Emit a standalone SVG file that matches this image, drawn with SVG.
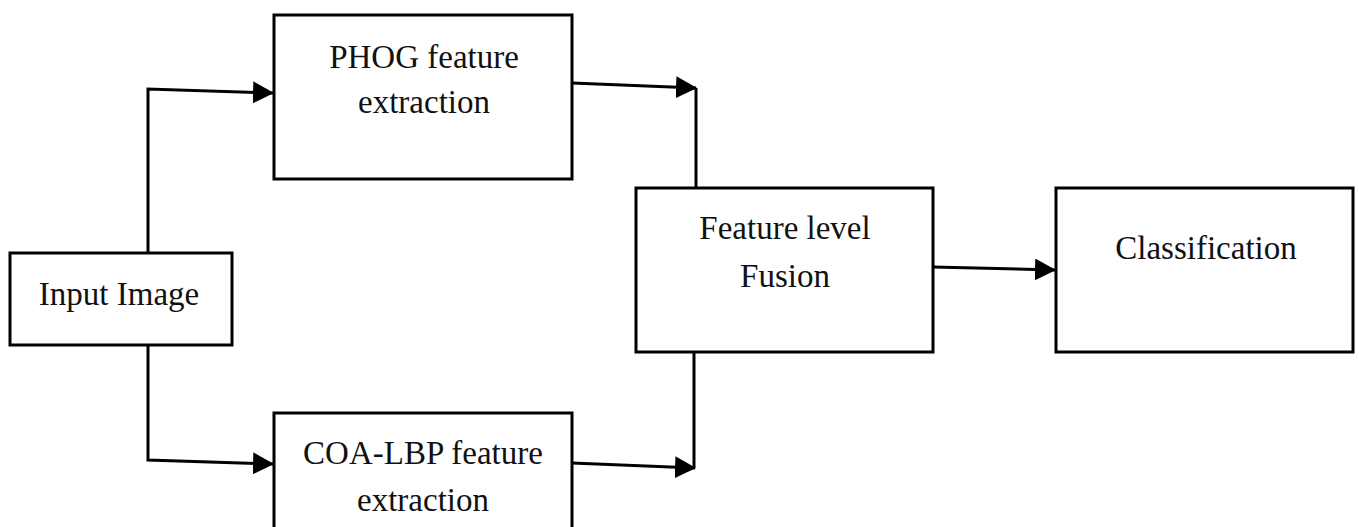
<svg xmlns="http://www.w3.org/2000/svg" width="1359" height="527" viewBox="0 0 1359 527">
  <style>
    .box { fill: #ffffff; stroke: #000000; stroke-width: 3; }
    .lbl { font-family: "Liberation Serif", "Times New Roman", serif; font-size: 33px; fill: #111111; text-anchor: middle; }
    .conn { fill: none; stroke: #000000; stroke-width: 3; }
  </style>
  <defs>
    <marker id="arrow" markerUnits="userSpaceOnUse" markerWidth="21" markerHeight="22" refX="20" refY="11" orient="auto">
      <path d="M0,0 L21,11 L0,22 Z" fill="#000000"/>
    </marker>
  </defs>
  <rect width="1359" height="527" fill="#ffffff"/>

  <g id="connectors">
    <path class="conn" d="M148,254 V89 L273,93" marker-end="url(#arrow)"/>
    <path class="conn" d="M148,345 V460 L273,464" marker-end="url(#arrow)"/>
    <path class="conn" d="M572,83 L696,88" marker-end="url(#arrow)"/>
    <path class="conn" d="M696,88 V188"/>
    <path class="conn" d="M572,463 L695,468" marker-end="url(#arrow)"/>
    <path class="conn" d="M694,352 V468"/>
    <path class="conn" d="M933,267 L1055,270" marker-end="url(#arrow)"/>
  </g>

  <g id="node-phog">
    <rect class="box" x="274" y="15" width="298" height="164"/>
    <text class="lbl" x="424" y="68">PHOG feature</text>
    <text class="lbl" x="424" y="113">extraction</text>
  </g>

  <g id="node-input">
    <rect class="box" x="10" y="253" width="222" height="92"/>
    <text class="lbl" x="119" y="305">Input Image</text>
  </g>

  <g id="node-coalbp">
    <rect class="box" x="274" y="413" width="298" height="130"/>
    <text class="lbl" x="423" y="464">COA-LBP feature</text>
    <text class="lbl" x="423" y="511">extraction</text>
  </g>

  <g id="node-fusion">
    <rect class="box" x="636" y="188" width="297" height="164"/>
    <text class="lbl" x="785" y="239">Feature level</text>
    <text class="lbl" x="785" y="287">Fusion</text>
  </g>

  <g id="node-classification">
    <rect class="box" x="1056" y="188" width="297" height="164"/>
    <text class="lbl" x="1206" y="259">Classification</text>
  </g>
</svg>
